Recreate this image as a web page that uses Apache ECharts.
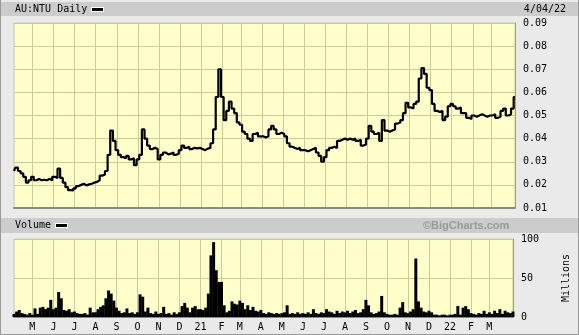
<!DOCTYPE html>
<html><head><meta charset="utf-8">
<script src="https://cdn.jsdelivr.net/npm/echarts@6/dist/echarts.min.js"></script>
<style>html,body{margin:0;padding:0;background:#eaeaea}#c{width:579px;height:335px}</style>
</head><body><div id="c"></div>
<script>
// ---- categories (sampled trading dates) ----
const months = ['2020-04','2020-05','2020-06','2020-07','2020-08','2020-09','2020-10','2020-11','2020-12',
  '2021-01','2021-02','2021-03','2021-04','2021-05','2021-06','2021-07','2021-08','2021-09','2021-10','2021-11','2021-12',
  '2022-01','2022-02','2022-03','2022-04'];
const daysFull = ['01','05','09','13','17','21','25','29'];
const daysFeb = ['01','05','09','13','17','21','25'];
const daysFirst = ['03','07','11','15','19','23','27'];
const daysLast = ['01','04'];

// ---- tick labels ----
const tickDates = ['2020-05-01','2020-06-01','2020-07-01','2020-08-01','2020-09-01','2020-10-01','2020-11-01','2020-12-01',
  '2021-01-01','2021-02-01','2021-03-01','2021-04-01','2021-05-01','2021-06-01','2021-07-01','2021-08-01','2021-09-01',
  '2021-10-01','2021-11-01','2021-12-01','2022-01-01','2022-02-01','2022-03-01'];
const tickLabels = ['M','J','J','A','S','O','N','D','21','F','M','A','M','J','J','A','S','O','N','D','22','F','M'];
const priceTicks = ['0.01','0.02','0.03','0.04','0.05','0.06','0.07','0.08','0.09'];

// ---- price (close) ----
const close = [
  0.026,0.0275,0.026,0.025,0.0235,0.021,0.022,                 // Apr20
  0.0235,0.022,0.0225,0.022,0.0222,0.022,0.0225,0.022,         // May20
  0.0235,0.023,0.027,0.023,0.021,0.019,0.0177,0.0176,          // Jun20
  0.0185,0.0195,0.020,0.0205,0.0198,0.0202,0.0205,0.021,       // Jul20
  0.0213,0.022,0.024,0.0245,0.026,0.033,0.0435,0.039,          // Aug20
  0.035,0.033,0.032,0.0315,0.0325,0.031,0.0315,0.0285,         // Sep20
  0.031,0.033,0.044,0.040,0.037,0.0355,0.036,0.0355,           // Oct20
  0.031,0.033,0.034,0.0332,0.0335,0.034,0.033,0.0335,          // Nov20
  0.035,0.037,0.036,0.0365,0.0355,0.036,0.0358,0.036,          // Dec20
  0.0355,0.035,0.0357,0.036,0.038,0.044,0.058,0.070,           // Jan21
  0.058,0.048,0.052,0.056,0.053,0.051,0.047,                   // Feb21
  0.046,0.043,0.042,0.040,0.039,0.042,0.0425,0.041,            // Mar21
  0.041,0.0405,0.041,0.044,0.0455,0.044,0.042,0.0425,          // Apr21
  0.042,0.041,0.038,0.0365,0.036,0.0355,0.036,0.035,           // May21
  0.035,0.0345,0.035,0.0355,0.036,0.034,0.0325,0.030,          // Jun21
  0.032,0.035,0.036,0.0365,0.036,0.039,0.0395,0.040,           // Jul21
  0.0395,0.040,0.0395,0.040,0.039,0.0395,0.037,0.0375,         // Aug21
  0.040,0.0455,0.043,0.042,0.0425,0.039,0.048,0.0435,          // Sep21
  0.043,0.0435,0.044,0.0465,0.047,0.048,0.051,0.0555,          // Oct21
  0.0535,0.053,0.055,0.056,0.066,0.0705,0.068,0.062,           // Nov21
  0.061,0.055,0.052,0.0515,0.052,0.048,0.0495,0.054,           // Dec21
  0.055,0.054,0.053,0.0535,0.051,0.051,0.049,0.0485,           // Jan22
  0.050,0.0495,0.050,0.0505,0.050,0.0495,0.050,                // Feb22
  0.050,0.0505,0.049,0.0495,0.052,0.053,0.050,0.0505,          // Mar22
  0.053,0.058                                                  // Apr22
];

// ---- volume (millions) ----
const volume = [
  4,7,9,5,4,3,5,
  3,11,4,12,13,10,12,22,
  10,12,32,24,9,8,10,6,
  7,5,4,4,5,3,12,6,
  6,10,13,15,24,34,30,21,
  12,8,5,6,11,5,6,4,
  6,29,26,7,12,5,4,7,
  4,5,13,4,5,3,6,4,
  6,14,18,12,6,12,14,10,
  10,9,12,30,79,96,60,45,
  45,15,6,8,20,17,16,
  21,18,10,15,9,13,8,7,
  9,5,4,6,5,4,5,4,
  5,6,15,4,5,4,6,4,
  5,4,6,4,10,5,4,6,
  5,10,7,6,4,8,5,7,
  6,8,5,7,9,5,6,10,
  22,15,6,4,5,7,27,6,
  4,3,3,4,3,12,19,6,
  5,7,10,75,20,12,7,6,
  8,6,3,3,2,3,3,2,
  3,3,4,14,3,12,14,10,
  5,4,3,5,4,8,4,
  6,4,8,5,10,4,8,6,
  5,7
];

const dates = [];
months.forEach((m, i) => {
  let ds = daysFull;
  if (i === 0) ds = daysFirst;
  else if (i === months.length - 1) ds = daysLast;
  else if (m.endsWith('-02')) ds = daysFeb;
  ds.forEach(d => dates.push(m + '-' + d));
});

const FONT = 'DejaVu Sans Mono';
const GRIDC = '#cccc99';
const isTick = (i, v) => tickDates.indexOf(v) >= 0;

function xAxis(g, showLabel) {
  return {
    type: 'category', gridIndex: g, data: dates, boundaryGap: false,
    axisLine: { show: true, lineStyle: { color: '#8a8a8a', width: 2 } },
    axisTick: { show: false },
    axisLabel: { show: showLabel, interval: isTick, formatter: v => tickLabels[tickDates.indexOf(v)],
      fontFamily: FONT, fontSize: 10, color: '#000', margin: 5 },
    splitLine: { show: true, interval: isTick, lineStyle: { color: GRIDC, width: 1 } }
  };
}

const chart = echarts.init(document.getElementById('c'), null, { renderer: 'canvas' });
chart.setOption({
  animation: false,
  backgroundColor: '#eaeaea',
  grid: [
    { left: 14, top: 23, width: 501, height: 185, show: true, backgroundColor: '#ffffcc', borderColor: GRIDC, borderWidth: 1 },
    { left: 14, top: 239, width: 501, height: 78, show: true, backgroundColor: '#ffffcc', borderColor: GRIDC, borderWidth: 1 }
  ],
  xAxis: [xAxis(0, false), xAxis(1, true)],
  yAxis: [
    { type: 'value', gridIndex: 0, position: 'right', min: 0.01, max: 0.09, interval: 0.01,
      axisLine: { show: true, lineStyle: { color: '#9a9a9a', width: 1 } }, axisTick: { show: false },
      axisLabel: { formatter: v => priceTicks[Math.round(v * 100) - 1], fontFamily: FONT, fontSize: 10, color: '#000', margin: 8 },
      splitLine: { show: true, lineStyle: { color: GRIDC, width: 1 } } },
    { type: 'value', gridIndex: 1, position: 'right', min: 0, max: 100, interval: 50,
      name: 'Millions', nameLocation: 'middle', nameRotate: 90, nameGap: 48,
      nameTextStyle: { fontFamily: FONT, fontSize: 10, color: '#000' },
      axisLine: { show: true, lineStyle: { color: '#9a9a9a', width: 1 } }, axisTick: { show: false },
      axisLabel: { fontFamily: FONT, fontSize: 10, color: '#000', margin: 8 },
      splitLine: { show: true, lineStyle: { color: GRIDC, width: 1 } } }
  ],
  series: [
    { type: 'line', name: 'AU:NTU', xAxisIndex: 0, yAxisIndex: 0, data: close, symbol: 'none', step: 'middle',
      lineStyle: { color: '#000', width: 2.2 }, z: 5 },
    { type: 'bar', name: 'Volume', xAxisIndex: 1, yAxisIndex: 1, data: volume, barWidth: 3,
      itemStyle: { color: '#000' }, z: 5 }
  ],
  graphic: [
    { type: 'rect', shape: { x: 1, y: 2, width: 577, height: 14 }, style: { fill: '#cccccc' }, silent: true },
    { type: 'text', x: 15, y: 9, style: { text: 'AU:NTU Daily', font: '10px "DejaVu Sans Mono"', fill: '#000', verticalAlign: 'middle' } },
    { type: 'rect', shape: { x: 91, y: 7, width: 13, height: 5 }, style: { fill: '#fff' } },
    { type: 'rect', shape: { x: 92, y: 8, width: 11, height: 3 }, style: { fill: '#000' } },
    { type: 'text', x: 566, y: 9, style: { text: '4/04/22', font: '10px "DejaVu Sans Mono"', fill: '#000', align: 'right', verticalAlign: 'middle' } },
    { type: 'rect', shape: { x: 1, y: 218, width: 577, height: 15 }, style: { fill: '#cccccc' }, silent: true },
    { type: 'text', x: 15, y: 225.5, style: { text: 'Volume', font: '10px "DejaVu Sans Mono"', fill: '#000', verticalAlign: 'middle' } },
    { type: 'rect', shape: { x: 55, y: 223, width: 13, height: 5 }, style: { fill: '#fff' } },
    { type: 'rect', shape: { x: 56, y: 224, width: 11, height: 3 }, style: { fill: '#000' } },
    { type: 'text', x: 423, y: 225.5, style: { text: '\u00A9BigCharts.com', font: 'bold 11px "Liberation Sans"', fill: '#999999', verticalAlign: 'middle' } },
    { type: 'polyline', shape: { points: [[0.5, 0], [0.5, 334.5], [578.5, 334.5], [578.5, 0]] }, style: { stroke: '#999', fill: null, lineWidth: 1 } }
  ]
});
</script></body></html>
